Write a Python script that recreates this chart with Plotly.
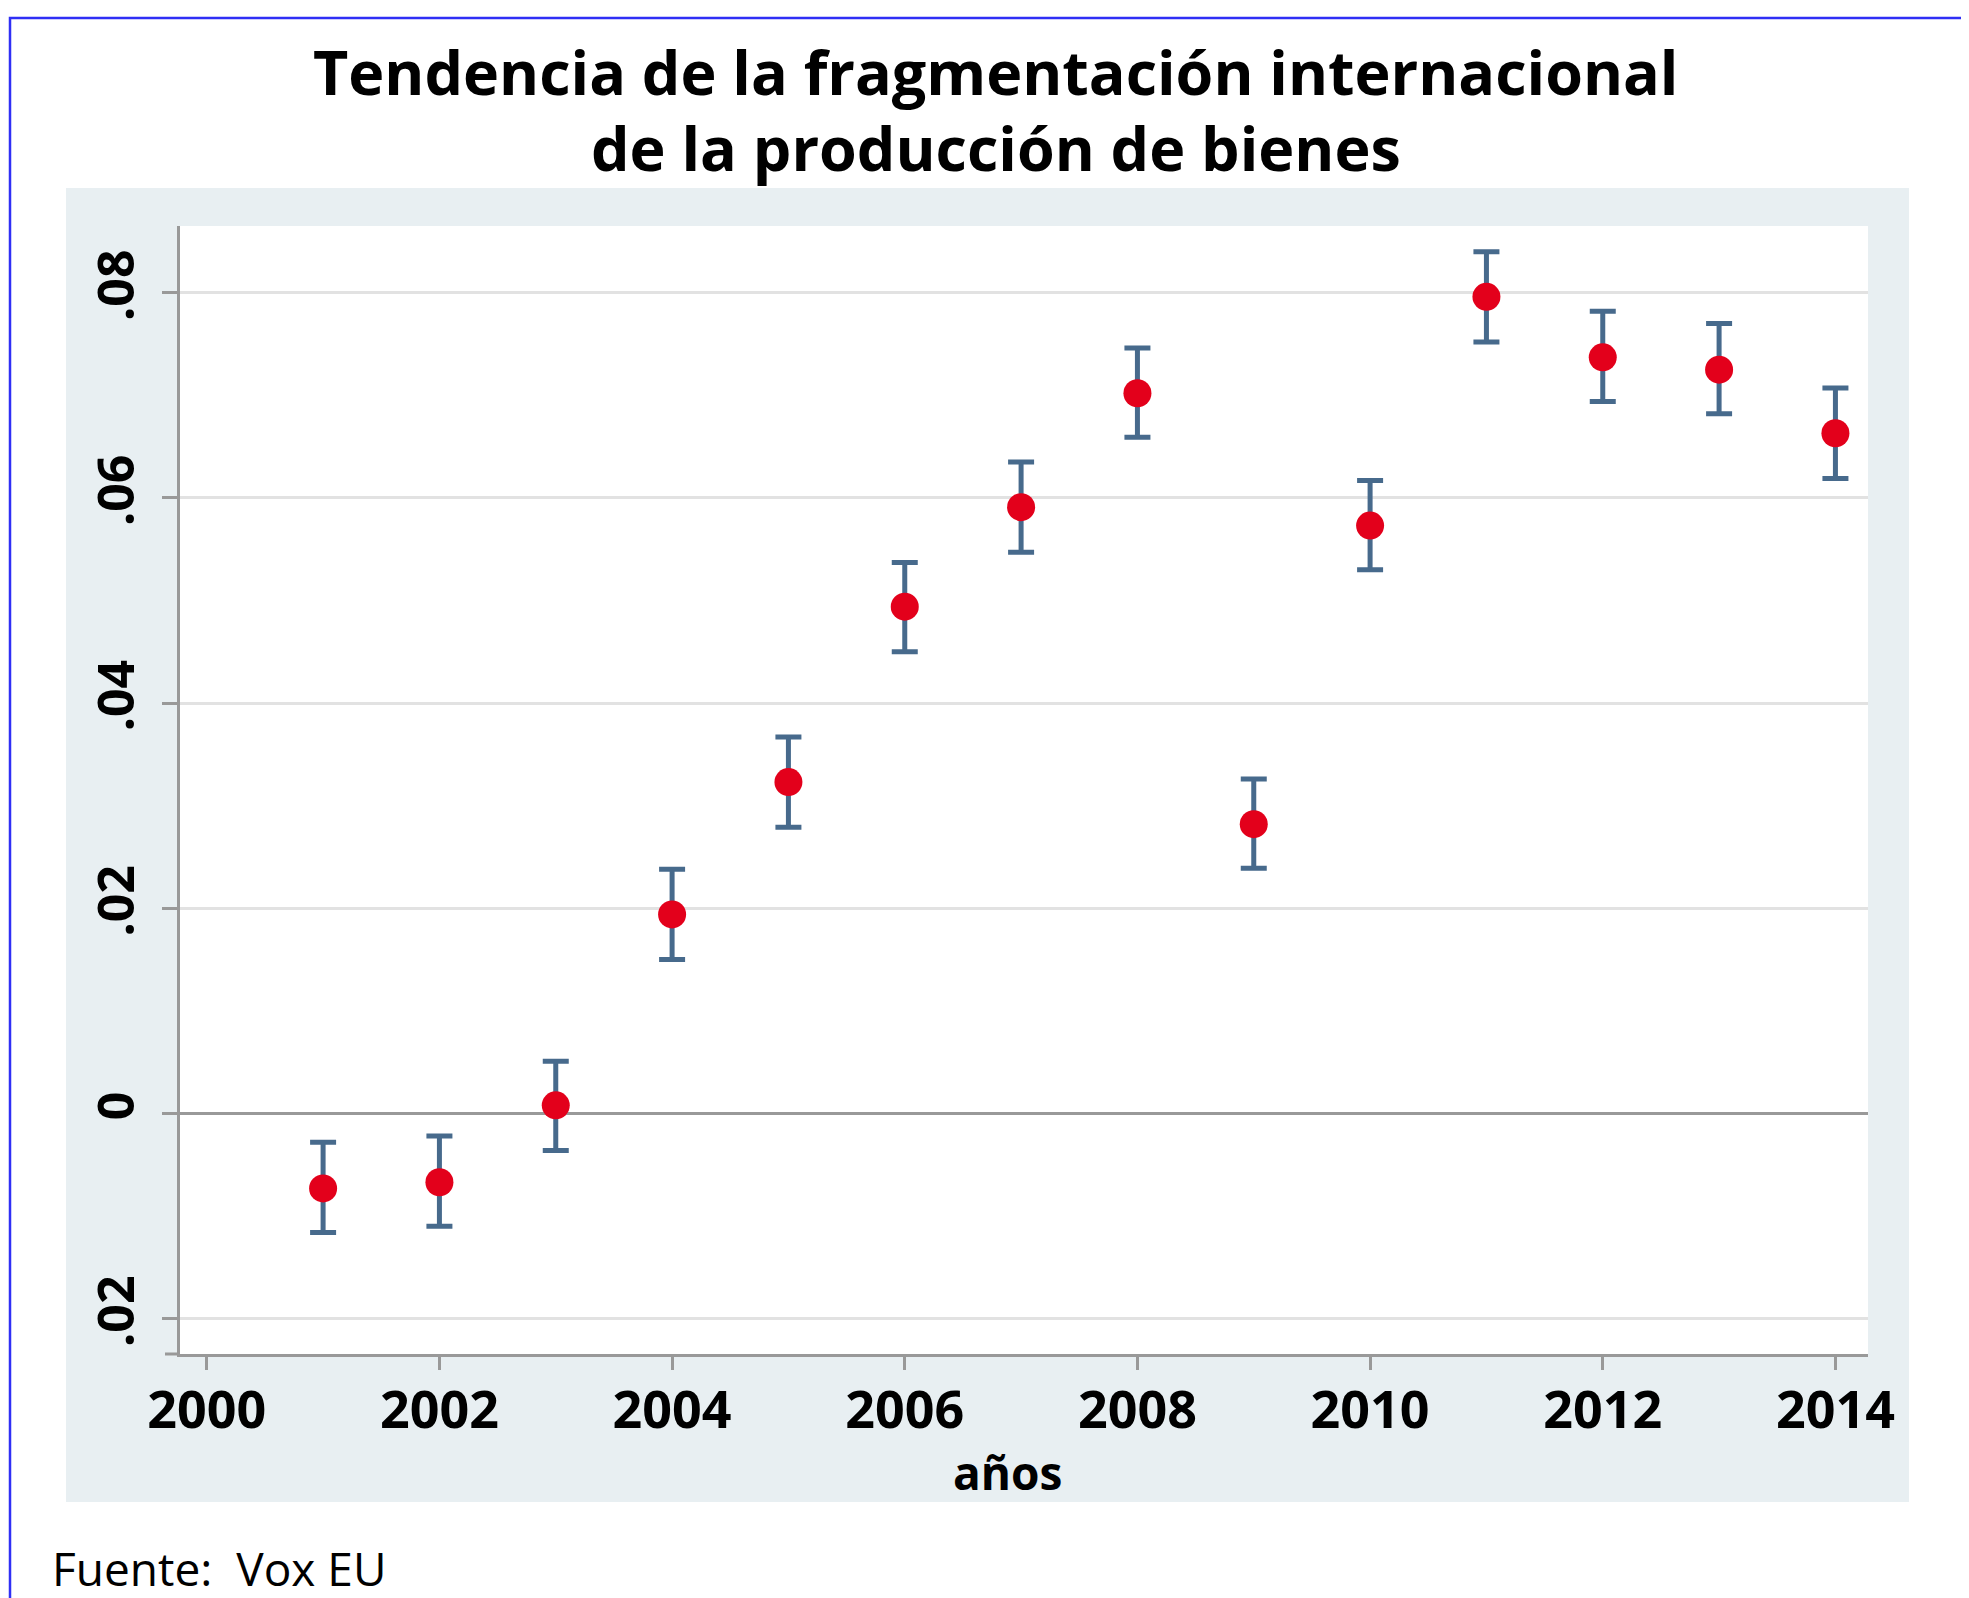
import plotly.graph_objects as go

# ---------------- data ----------------
years = [2001, 2002, 2003, 2004, 2005, 2006, 2007, 2008, 2009, 2010, 2011, 2012, 2013, 2014]
estimate = [-0.0073, -0.0067, 0.0008, 0.0194, 0.0323, 0.0494, 0.0591, 0.0702, 0.0282, 0.0573, 0.0796, 0.0737, 0.0725, 0.0663]
ci_upper = [-0.0028, -0.0022, 0.0051, 0.0238, 0.0367, 0.0537, 0.0635, 0.0746, 0.0326, 0.0617, 0.0840, 0.0782, 0.0770, 0.0707]
ci_lower = [-0.0116, -0.0110, -0.0036, 0.0150, 0.0279, 0.0450, 0.0547, 0.0659, 0.0239, 0.0530, 0.0752, 0.0694, 0.0682, 0.0619]

x_tick_vals = [2000, 2002, 2004, 2006, 2008, 2010, 2012, 2014]
x_tick_text = ["2000", "2002", "2004", "2006", "2008", "2010", "2012", "2014"]
y_tick_vals = [-0.02, 0, 0.02, 0.04, 0.06, 0.08]
y_tick_text = [".02", "0", ".02", ".04", ".06", ".08"]

title_line1 = "Tendencia de la fragmentación internacional"
title_line2 = "de la producción de bienes"
x_title = "años"
source_text = "Fuente:  Vox EU"

# ---------------- layout geometry ----------------
OFF = 8  # page body margin
W, H = 1969 - OFF, 1598 - OFF
ML, MT = 180 - OFF, 226 - OFF
MR = W - (1868 - OFF)
MB = H - (1354 - OFF)
PW, PH = W - ML - MR, H - MT - MB


def px(x):
    """screen x (px) -> paper coordinate"""
    return (x - OFF - ML) / PW


def py(y):
    """screen y (px) -> paper coordinate"""
    return (H - MB - (y - OFF)) / PH


FONT = "Open Sans"
RED = "#E3001B"
BAR = "#476A8C"
PANEL = "#E8EFF2"
AXIS = "#999999"

err_plus = [u - e for u, e in zip(ci_upper, estimate)]
err_minus = [e - l for e, l in zip(estimate, ci_lower)]

fig = go.Figure()
fig.add_trace(go.Scatter(
    x=years, y=estimate, mode="markers",
    marker=dict(size=26, color=RED, opacity=0),
    error_y=dict(type="data", symmetric=False, array=err_plus, arrayminus=err_minus,
                 color=BAR, thickness=5, width=13),
    hoverinfo="skip", showlegend=False,
))
fig.add_trace(go.Scatter(
    x=years, y=estimate, mode="markers",
    marker=dict(size=28, color=RED, line=dict(width=0)),
    showlegend=False,
))

shapes = [
    # outer blue frame (only top/left visible)
    dict(type="rect", xref="paper", yref="paper", x0=px(10), x1=px(2100), y0=py(1700), y1=py(18),
         line=dict(color="#2F2FF5", width=2.5), fillcolor="rgba(0,0,0,0)", layer="below"),
    # light graph panel
    dict(type="rect", xref="paper", yref="paper", x0=px(66), x1=px(1909), y0=py(1502), y1=py(188),
         line=dict(width=0), fillcolor=PANEL, layer="below"),
    # white plot area
    dict(type="rect", xref="x domain", yref="y domain", x0=0, x1=1, y0=0, y1=1,
         line=dict(width=0), fillcolor="white", layer="below"),
    # small extension of the x axis line to the left of the y axis
    dict(type="line", xref="paper", yref="y domain", x0=px(165), x1=0, y0=0, y1=0,
         line=dict(color=AXIS, width=3), layer="above"),
]

annotations = [
    dict(text=title_line1, xref="paper", yref="paper", x=px(995), y=py(72), showarrow=False,
         xanchor="center", yanchor="middle", font=dict(family=FONT, size=61, color="black", weight=700)),
    dict(text=title_line2, xref="paper", yref="paper", x=px(996), y=py(147), showarrow=False,
         xanchor="center", yanchor="middle", font=dict(family=FONT, size=61, color="black", weight=700)),
    dict(text=x_title, xref="paper", yref="paper", x=px(1007), y=py(1472), showarrow=False,
         xanchor="center", yanchor="middle", font=dict(family=FONT, size=46, color="black", weight=700)),
    dict(text=source_text, xref="paper", yref="paper", x=px(50), y=py(1568), showarrow=False,
         xanchor="left", yanchor="middle", font=dict(family=FONT, size=46, color="black")),
]

fig.update_layout(
    width=W, height=H, autosize=False,
    margin=dict(l=ML, r=MR, t=MT, b=MB, pad=0),
    paper_bgcolor="white", plot_bgcolor="white",
    shapes=shapes, annotations=annotations,
    showlegend=False,
    xaxis=dict(
        range=[1999.77, 2014.28], tickvals=x_tick_vals, ticktext=x_tick_text,
        showgrid=False, zeroline=False,
        showline=True, linecolor=AXIS, linewidth=3,
        ticks="outside", ticklen=13, tickwidth=3, tickcolor=AXIS,
        tickfont=dict(family=FONT, size=52, color="black", weight=700),
        ticklabelstandoff=-4,
    ),
    yaxis=dict(
        range=[-0.02344, 0.0865], tickvals=y_tick_vals, ticktext=y_tick_text,
        tickangle=-90,
        showgrid=True, gridcolor="#E2E2E2", gridwidth=3,
        zeroline=True, zerolinecolor=AXIS, zerolinewidth=3,
        showline=True, linecolor=AXIS, linewidth=3,
        ticks="outside", ticklen=15, tickwidth=3, tickcolor=AXIS,
        tickfont=dict(family=FONT, size=50, color="black", weight=700),
        ticklabelstandoff=8,
    ),
)

fig.write_html("out.html")
